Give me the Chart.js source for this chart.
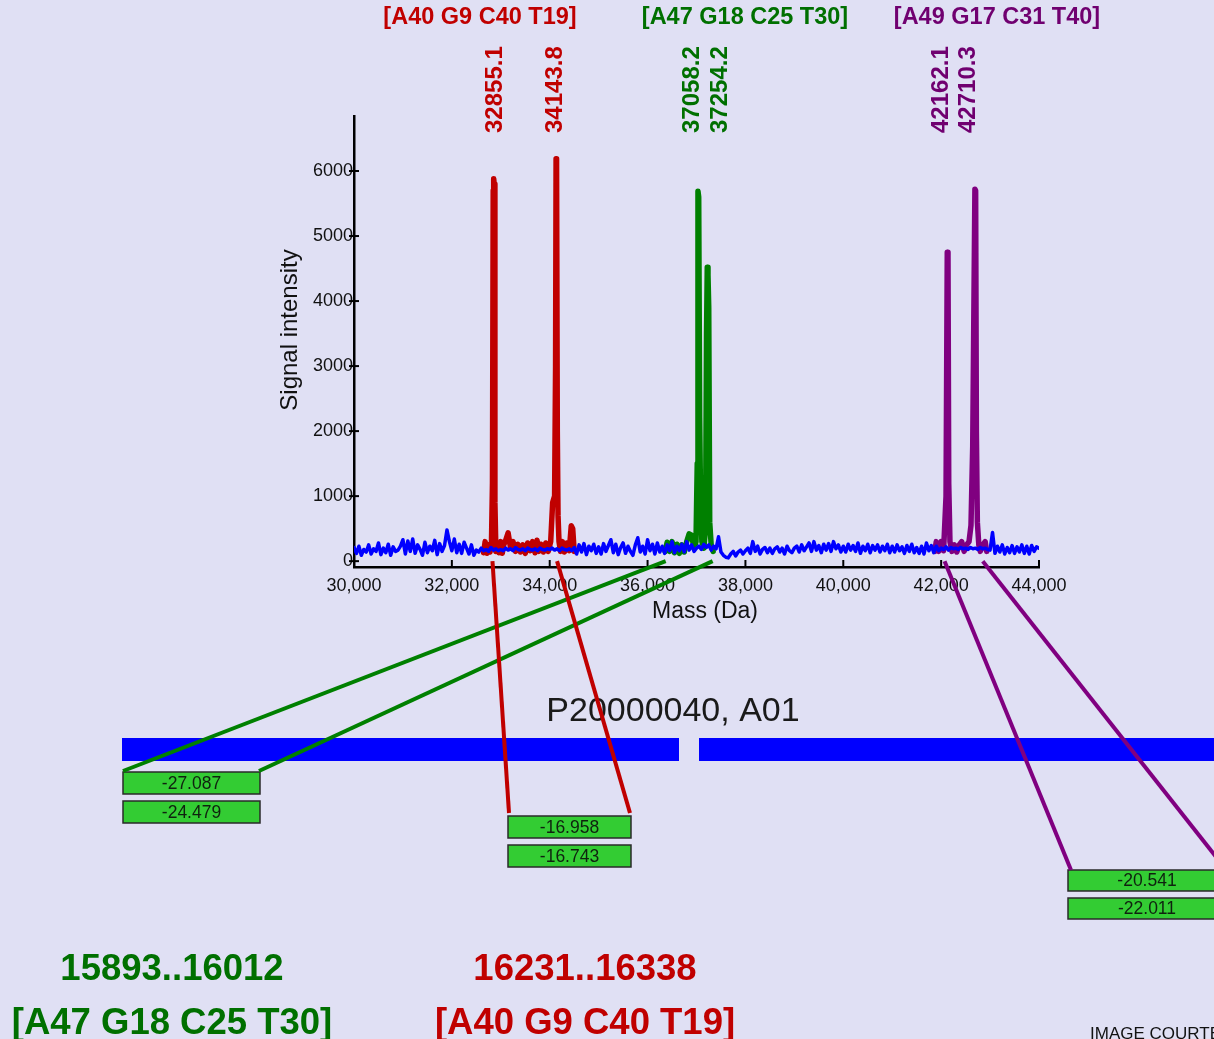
<!DOCTYPE html>
<html>
<head>
<meta charset="utf-8">
<script src="https://cdn.jsdelivr.net/npm/chart.js@4.4.1/dist/chart.umd.min.js"></script>
<style>
  html, body { margin: 0; padding: 0; background: #E0E0F4; overflow: hidden; }
  canvas { display: block; }
</style>
</head>
<body>
<canvas id="spectrum" width="1214" height="1039"></canvas>
<script>
// x ticks / y ticks
const massTicks = [30000, 32000, 34000, 36000, 38000, 40000, 42000, 44000];
const intensityTicks = [0, 1000, 2000, 3000, 4000, 5000, 6000];

// background spectrum, one value every 50 Da from 30000 Da
const noiseStartDa = 30000;
const noiseStepDa = 50;
const noiseIntensity = [
  210, 120, 230, 90, 180, 140, 250, 110, 190, 150, 280, 100, 200, 130, 260, 90, 220, 150, 170, 230,
  330, 110, 310, 150, 340, 120, 250, 180, 90, 290, 130, 230, 160, 320, 100, 270, 150, 240, 480, 300,
  160, 340, 130, 260, 120, 290, 200, 110, 250, 90, 170, 140, 200, 160, 180, 150, 210, 170, 190, 160,
  180, 160, 200, 170, 190, 160, 210, 180, 170, 190, 160, 200, 180, 170, 190, 160, 200, 180, 170, 190,
  180, 200, 170, 190, 160, 200, 180, 170, 190, 160, 210, 110, 250, 140, 270, 100, 230, 160, 260, 120,
  220, 110, 270, 150, 240, 330, 130, 260, 100, 210, 280, 120, 230, 150, 90, 250, 360, 140, 230, 110,
  330, 160, 260, 110, 280, 140, 230, 120, 250, 160, 300, 130, 230, 160, 260, 140, 300, 170, 250, 150,
  200, 230, 180, 260, 210, 250, 170, 230, 190, 375, 140, 90, 60, 50, 110, 150, 80, 140, 170, 110,
  160, 200, 120, 300, 150, 230, 110, 180, 210, 130, 200, 120, 190, 220, 140, 200, 110, 230, 160, 130,
  200, 230, 140, 250, 160, 220, 280, 150, 300, 170, 240, 130, 260, 170, 270, 150, 300, 190, 250, 140,
  230, 140, 260, 170, 240, 150, 280, 120, 230, 160, 260, 130, 240, 170, 250, 140, 230, 160, 260, 130,
  230, 140, 250, 160, 220, 120, 240, 150, 260, 130, 210, 120, 230, 110, 280, 160, 240, 130, 230, 160,
  200, 180, 220, 170, 210, 190, 200, 180, 210, 190, 200, 180, 210, 190, 200, 180, 210, 190, 200, 180,
  170, 440, 120, 230, 140, 250, 110, 210, 130, 240, 120, 220, 140, 250, 120, 230, 110, 240, 150, 220,
  200
];

// assigned peaks
const redMass = [32650, 32680, 32720, 32750, 32780, 32810, 32830, 32845, 32855, 32865, 32880, 32900, 32930, 32960, 33000, 33030,
  33060, 33100, 33150, 33200, 33250, 33300, 33350, 33400, 33450, 33500, 33550, 33600, 33650, 33700, 33740, 33780,
  33820, 33870, 33920, 33970, 34020, 34060, 34100, 34120, 34130, 34140, 34155, 34170, 34190, 34220, 34260, 34300,
  34350, 34400, 34440, 34470, 34500];
const redIntensity = [130, 300, 120, 250, 140, 300, 1200, 5700, 5880, 5800, 900, 150, 280, 130, 300, 120,
  250, 320, 435, 200, 300, 150, 260, 140, 250, 120, 280, 160, 300, 130, 320, 150,
  260, 140, 280, 150, 300, 900, 1000, 3000, 6190, 6100, 2000, 700, 300, 150, 300, 140,
  280, 160, 545, 500, 150];

const greenMass = [36360, 36400, 36450, 36500, 36550, 36600, 36650, 36700, 36750, 36800, 36850, 36900, 36950, 36990,
  37015, 37030, 37045, 37065, 37085, 37110, 37150, 37185, 37205, 37220, 37235, 37250, 37270, 37300, 37340];
const greenIntensity = [150, 290, 150, 300, 130, 260, 120, 250, 140, 300, 420, 400, 200, 300,
  1500, 5690, 5600, 2200, 800, 300, 200, 500, 3500, 4520, 4400, 3900, 600, 250, 150];

const purpleMass = [41870, 41900, 41950, 42000, 42050, 42100, 42125, 42140, 42155, 42180, 42220, 42270, 42320, 42370,
  42420, 42470, 42520, 42570, 42610, 42645, 42690, 42705, 42720, 42740, 42770, 42800, 42850, 42900, 42930];
const purpleIntensity = [150, 300, 150, 300, 160, 1000, 4750, 4700, 1200, 300, 150, 250, 140, 250,
  300, 150, 250, 300, 550, 1760, 5720, 5700, 2000, 600, 250, 150, 250, 300, 150];

// labels
const groupTitles = ['[A40 G9 C40 T19]', '[A47 G18 C25 T30]', '[A49 G17 C31 T40]'];
const peakLabels = ['32855.1', '34143.8', '37058.2', '37254.2', '42162.1', '42710.3'];
const peakLabelMass = [32855.1, 34143.8, 37058.2, 37254.2, 42162.1, 42710.3];
const connectorMass = [[36370, 37330], [32830, 34150], [42070, 42850]];
const boxValues = [['-27.087', '-24.479'], ['-16.958', '-16.743'], ['-20.541', '-22.011']];
const regionRanges = ['15893..16012', '16231..16338'];
const regionTitles = ['[A47 G18 C25 T30]', '[A40 G9 C40 T19]'];
const plateLabel = 'P20000040, A01';

const RED = '#C00000', GREEN = '#008000', PURPLE = '#800080';
const RED_T = '#C00000', GREEN_T = '#007000', PURPLE_T = '#700070';
const FONT = '"Liberation Sans", Arial, sans-serif';

const toXY = (xs, ys) => xs.map((m, i) => ({ x: m, y: ys[i] }));
const noisePoints = noiseIntensity.map((v, i) => ({ x: noiseStartDa + i * noiseStepDa, y: v }));

const overlay = {
  id: 'overlay',
  beforeDraw(chart) {
    const ctx = chart.ctx;
    ctx.save();
    ctx.fillStyle = '#E0E0F4';
    ctx.fillRect(0, 0, chart.width, chart.height);
    ctx.restore();
  },
  afterDraw(chart) {
    const ctx = chart.ctx;
    const xs = chart.scales.x, ys = chart.scales.y;
    const area = chart.chartArea;
    ctx.save();

    // tick marks
    ctx.strokeStyle = '#000';
    ctx.lineWidth = 2;
    massTicks.forEach(t => {
      const px = xs.getPixelForValue(t);
      ctx.beginPath(); ctx.moveTo(px, area.bottom); ctx.lineTo(px, area.bottom - 7); ctx.stroke();
    });
    intensityTicks.forEach(t => {
      const py = ys.getPixelForValue(t);
      ctx.beginPath(); ctx.moveTo(area.left - 5, py); ctx.lineTo(area.left + 5, py); ctx.stroke();
    });

    // axis titles
    ctx.fillStyle = '#111';
    ctx.font = '23px ' + FONT;
    ctx.textAlign = 'center';
    ctx.textBaseline = 'middle';
    ctx.fillText('Mass (Da)', 705, 612);
    ctx.save();
    ctx.translate(290, 330);
    ctx.rotate(-Math.PI / 2);
    ctx.font = '24px ' + FONT;
    ctx.fillText('Signal intensity', 0, 0);
    ctx.restore();

    // group titles above plot
    const titleX = [480, 745, 997];
    const titleCol = [RED_T, GREEN_T, PURPLE_T];
    ctx.font = 'bold 23.5px ' + FONT;
    groupTitles.forEach((t, i) => {
      ctx.fillStyle = titleCol[i];
      ctx.fillText(t, titleX[i], 18);
    });

    // rotated peak masses
    const labelShift = [2, -1, -7, 11, -8, -8];
    const labelCol = [RED_T, RED_T, GREEN_T, GREEN_T, PURPLE_T, PURPLE_T];
    ctx.font = 'bold 24px ' + FONT;
    ctx.textAlign = 'left';
    peakLabels.forEach((t, i) => {
      const px = xs.getPixelForValue(peakLabelMass[i]) + labelShift[i];
      ctx.save();
      ctx.translate(px, 133);
      ctx.rotate(-Math.PI / 2);
      ctx.fillStyle = labelCol[i];
      ctx.fillText(t, 0, 0);
      ctx.restore();
    });

    // plate label and blue sequence bars
    ctx.fillStyle = '#1a1a1a';
    ctx.font = '34px ' + FONT;
    ctx.textAlign = 'center';
    ctx.textBaseline = 'alphabetic';
    ctx.fillText(plateLabel, 673, 721);
    ctx.fillStyle = '#0000FF';
    ctx.fillRect(122, 738, 557, 23);
    ctx.fillRect(699, 738, 530, 23);

    // score boxes
    const boxes = [
      { x: 123, w: 137, y: [772, 801], h: 22 },
      { x: 508, w: 123, y: [816, 845], h: 22 },
      { x: 1068, w: 158, y: [870, 898], h: 21 }
    ];
    ctx.font = '17.5px ' + FONT;
    ctx.textBaseline = 'middle';
    boxes.forEach((b, i) => {
      b.y.forEach((by, j) => {
        ctx.fillStyle = '#33CC33';
        ctx.fillRect(b.x, by, b.w, b.h);
        ctx.strokeStyle = '#2a2a2a';
        ctx.lineWidth = 1.5;
        ctx.strokeRect(b.x, by, b.w, b.h);
        ctx.fillStyle = '#0f220f';
        ctx.fillText(boxValues[i][j], b.x + b.w / 2, by + b.h / 2 + 1);
      });
    });

    // region labels at bottom
    const regionX = [172, 585];
    const regionCol = [GREEN_T, RED_T];
    ctx.font = 'bold 36.5px ' + FONT;
    ctx.textBaseline = 'alphabetic';
    regionRanges.forEach((t, i) => {
      ctx.fillStyle = regionCol[i];
      ctx.fillText(t, regionX[i], 980);
      ctx.fillText(regionTitles[i], regionX[i], 1034);
    });
    ctx.fillStyle = '#111';
    ctx.font = '17px ' + FONT;
    ctx.textAlign = 'left';
    ctx.fillText('IMAGE COURTESY', 1090, 1039);

    // connectors from peaks to boxes
    const ends = [
      [[123, 771], [259, 771]],
      [[509, 813], [630, 813]],
      [[1071, 870], [1224, 867]]
    ];
    const connCol = [GREEN, RED, PURPLE];
    const baseY = ys.getPixelForValue(0);
    ctx.lineWidth = 4;
    ctx.lineCap = 'butt';
    connectorMass.forEach((pair, i) => {
      ctx.strokeStyle = connCol[i];
      pair.forEach((m, j) => {
        ctx.beginPath();
        ctx.moveTo(xs.getPixelForValue(m), baseY);
        ctx.lineTo(ends[i][j][0], ends[i][j][1]);
        ctx.stroke();
      });
    });
    ctx.restore();
  }
};

new Chart(document.getElementById('spectrum'), {
  type: 'line',
  data: {
    datasets: [
      { data: noisePoints, borderColor: '#0000FF', borderWidth: 3.5 },
      { data: toXY(redMass, redIntensity), borderColor: RED, borderWidth: 5.5 },
      { data: toXY(greenMass, greenIntensity), borderColor: GREEN, borderWidth: 5.5 },
      { data: toXY(purpleMass, purpleIntensity), borderColor: PURPLE, borderWidth: 5.5 }
    ]
  },
  options: {
    responsive: false,
    devicePixelRatio: 1,
    animation: false,
    locale: 'en-US',
    elements: {
      point: { radius: 0 },
      line: { tension: 0, borderJoinStyle: 'round', borderCapStyle: 'round' }
    },
    layout: { padding: { left: 274, right: 175, top: 116, bottom: 409 } },
    plugins: { legend: { display: false }, tooltip: { enabled: false } },
    scales: {
      x: {
        type: 'linear',
        min: 30000,
        max: 44000,
        afterBuildTicks: s => { s.ticks = massTicks.map(v => ({ value: v })); },
        afterFit: s => { s.height = 63; },
        grid: { display: false, drawTicks: false },
        border: { display: true, color: '#000', width: 2.5 },
        ticks: {
          padding: 8,
          color: '#111',
          maxRotation: 0,
          font: { family: FONT, size: 18 },
          callback: v => v.toLocaleString('en-US')
        }
      },
      y: {
        min: -90,
        max: 6846,
        afterBuildTicks: s => { s.ticks = intensityTicks.map(v => ({ value: v })); },
        afterFit: s => { s.width = 80; },
        grid: { display: false, drawTicks: false },
        border: { display: true, color: '#000', width: 2.5 },
        ticks: {
          padding: 1,
          color: '#111',
          font: { family: FONT, size: 18 },
          callback: v => String(v)
        }
      }
    }
  },
  plugins: [overlay]
});
</script>
</body>
</html>
